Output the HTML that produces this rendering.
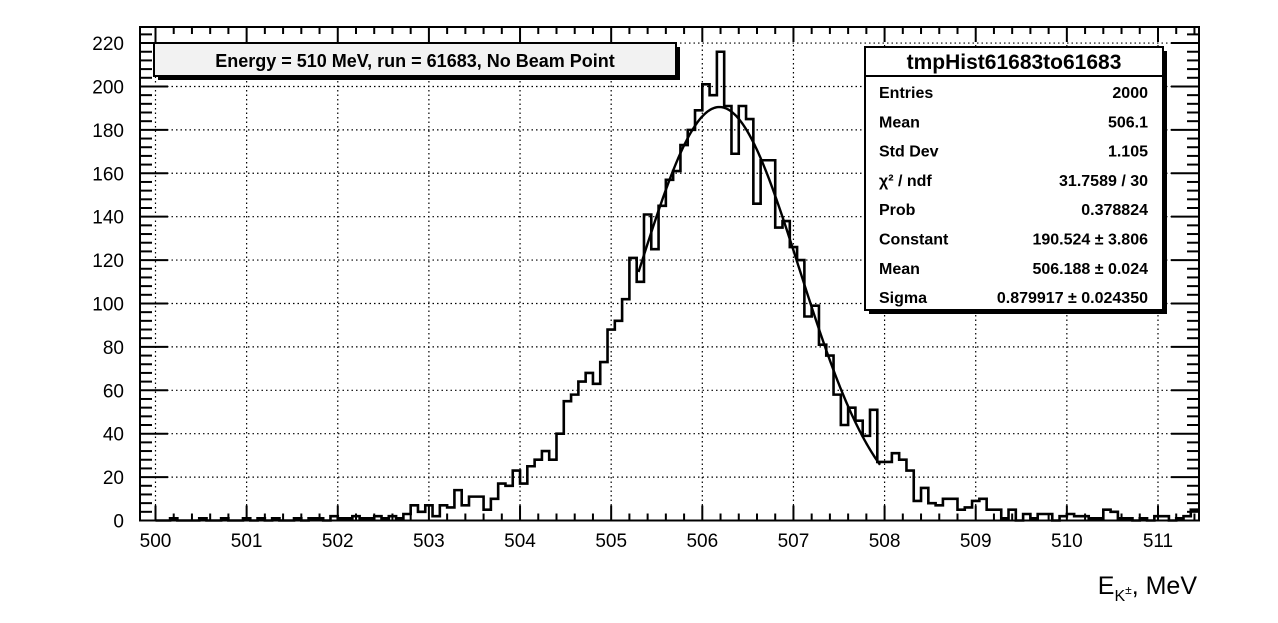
<!DOCTYPE html>
<html><head><meta charset="utf-8"><style>
body{margin:0;background:#fff;}
svg{display:block;font-family:"Liberation Sans",Arial,sans-serif;}
</style></head><body>
<svg id="chart" width="1278" height="623" viewBox="0 0 1278 623" xmlns="http://www.w3.org/2000/svg">
<rect x="0" y="0" width="1278" height="623" fill="#fff"/>
<g id="grid"></g>
<g id="ticks"></g>
<g id="xlabels" font-size="19" text-anchor="middle"></g>
<g id="ylabels" font-size="19" text-anchor="end"></g>
<path id="hist" fill="none" stroke="#000" stroke-width="2.6"/>
<path id="fit" fill="none" stroke="#000" stroke-width="2.4"/>
<rect x="140" y="27" width="1059" height="493.5" fill="none" stroke="#000" stroke-width="2"/>
<text x="1197" y="594" font-size="25" text-anchor="end">E<tspan font-size="16" dy="7">K</tspan><tspan font-size="12" dy="-7">±</tspan>, MeV</text>
<g>
<rect x="158" y="47" width="522" height="33" fill="#000"/>
<rect x="154" y="43" width="522" height="33" fill="#f2f2f2" stroke="#000" stroke-width="2"/>
<text x="415" y="67" font-size="18" font-weight="bold" text-anchor="middle">Energy = 510 MeV, run = 61683, No Beam Point</text>
</g>
<g font-size="16" font-weight="bold">
<rect x="869" y="51" width="298" height="263" fill="#000"/>
<rect x="865" y="47" width="298" height="263" fill="#fff" stroke="#000" stroke-width="2"/>
<line x1="865" y1="76" x2="1163" y2="76" stroke="#000" stroke-width="2"/>
<text x="1014" y="69" font-size="21" text-anchor="middle">tmpHist61683to61683</text>
<g id="statrows"></g>
</g>
</svg>
<script>
const binStart = 500.0;
const binWidth = 0.08;
const counts = [0,0,1,0,0,0,1,0,0,1,0,0,1,0,1,0,1,0,0,1,0,1,1,0,2,1,1,2,1,1,2,1,2,1,3,7,4,
7,2,7,6,14,7,11,11,5,10,17,16,23,17,25,28,32,28,40,55,58,64,68,63,73,88,92,102,121,110,141,125,145,157,161,173,180,189,201,196,216,191,169,191,185,146,166,166,135,138,126,120,94,99,81,76,58,44,52,46,39,51,27,27,31,28,23,9,15,8,7,10,10,5,6,9,10,5,5,1,5,0,3,1,3,3,0,2,3,2,2,1,1,5,4,1,1,0,1,0,2,2,0,1,2,5];
const fitConstant = 190.524, fitMean = 506.188, fitSigma = 0.879917;
const fitRange = [505.3, 507.95];
const xTicks = [500,501,502,503,504,505,506,507,508,509,510,511];
const yTicks = [0,20,40,60,80,100,120,140,160,180,200,220];
const statNames = ["Entries","Mean","Std Dev","χ² / ndf","Prob","Constant","Mean","Sigma"];
const statValues = ["2000","506.1","1.105","31.7589 / 30","0.378824","190.524 ± 3.806","506.188 ± 0.024","0.879917 ± 0.024350"];

const L=140,R=1199,T=27,B=520.5, XMIN=499.83, XMAX=511.45, YMIN=0, YMAX=227.4;
const sx=v=>L+(v-XMIN)/(XMAX-XMIN)*(R-L);
const sy=v=>B-(v-YMIN)/(YMAX-YMIN)*(B-T);
const NS="http://www.w3.org/2000/svg";
function mk(tag,parent){const e=document.createElementNS(NS,tag);parent.appendChild(e);return e;}

const grid=document.getElementById('grid'), ticks=document.getElementById('ticks');
xTicks.forEach(v=>{
  const g=mk('line',grid);g.setAttribute('x1',sx(v));g.setAttribute('x2',sx(v));g.setAttribute('y1',T);g.setAttribute('y2',B);
  g.setAttribute('stroke','#000');g.setAttribute('stroke-dasharray','1.5 3');g.setAttribute('stroke-width','1.2');
  
  
  const t=mk('text',document.getElementById('xlabels'));t.setAttribute('x',sx(v));t.setAttribute('y',547);t.textContent=v;
  
  
});
for(let v=500;v<=511.45;v+=0.2){
  const major=Math.abs(v-Math.round(v))<1e-6;const len=major?15:7;
  [[B,B-len],[T,T+len]].forEach(p=>{const l=mk('line',ticks);l.setAttribute('x1',sx(v));l.setAttribute('x2',sx(v));l.setAttribute('y1',p[0]);l.setAttribute('y2',p[1]);l.setAttribute('stroke','#000');l.setAttribute('stroke-width','2');
  
  });
}
yTicks.forEach(v=>{
  const g=mk('line',grid);g.setAttribute('x1',L);g.setAttribute('x2',R);g.setAttribute('y1',sy(v));g.setAttribute('y2',sy(v));
  g.setAttribute('stroke','#000');g.setAttribute('stroke-dasharray','1.5 3');g.setAttribute('stroke-width','1.2');
  
  
  const t=mk('text',document.getElementById('ylabels'));t.setAttribute('x',124);t.setAttribute('y',sy(v)+7);t.textContent=v;
  
  
});
for(let v=0;v<=226;v+=4){
  const len=(v%20===0)?28:12;
  [[L,L+len],[R,R-len]].forEach(p=>{const l=mk('line',ticks);l.setAttribute('y1',sy(v));l.setAttribute('y2',sy(v));l.setAttribute('x1',p[0]);l.setAttribute('x2',p[1]);l.setAttribute('stroke','#000');l.setAttribute('stroke-width','2');
  
  });
}
let d='';
counts.forEach((c,i)=>{
  const x0=Math.max(L,sx(binStart+i*binWidth)), x1=Math.min(R,sx(binStart+(i+1)*binWidth));
  if(x0>=R) return;
  d+=(i===0?'M'+x0+' '+sy(0)+' L':' L')+x0+' '+sy(c)+' L'+x1+' '+sy(c);
});
document.getElementById('hist').setAttribute('d',d);
let f='';
for(let k=0;k<=200;k++){const x=fitRange[0]+(fitRange[1]-fitRange[0])*k/200;const y=fitConstant*Math.exp(-0.5*Math.pow((x-fitMean)/fitSigma,2));f+=(k?' L':'M')+sx(x).toFixed(2)+' '+sy(y).toFixed(2);}
document.getElementById('fit').setAttribute('d',f);
const sr=document.getElementById('statrows');
statNames.forEach((n,i)=>{
  const y=98+i*29.3;
  const a=mk('text',sr);a.setAttribute('x',879);a.setAttribute('y',y);a.textContent=n;
  
  
  const b=mk('text',sr);b.setAttribute('x',1148);b.setAttribute('y',y);b.setAttribute('text-anchor','end');b.textContent=statValues[i];
  
  
});
</script>
</body></html>
